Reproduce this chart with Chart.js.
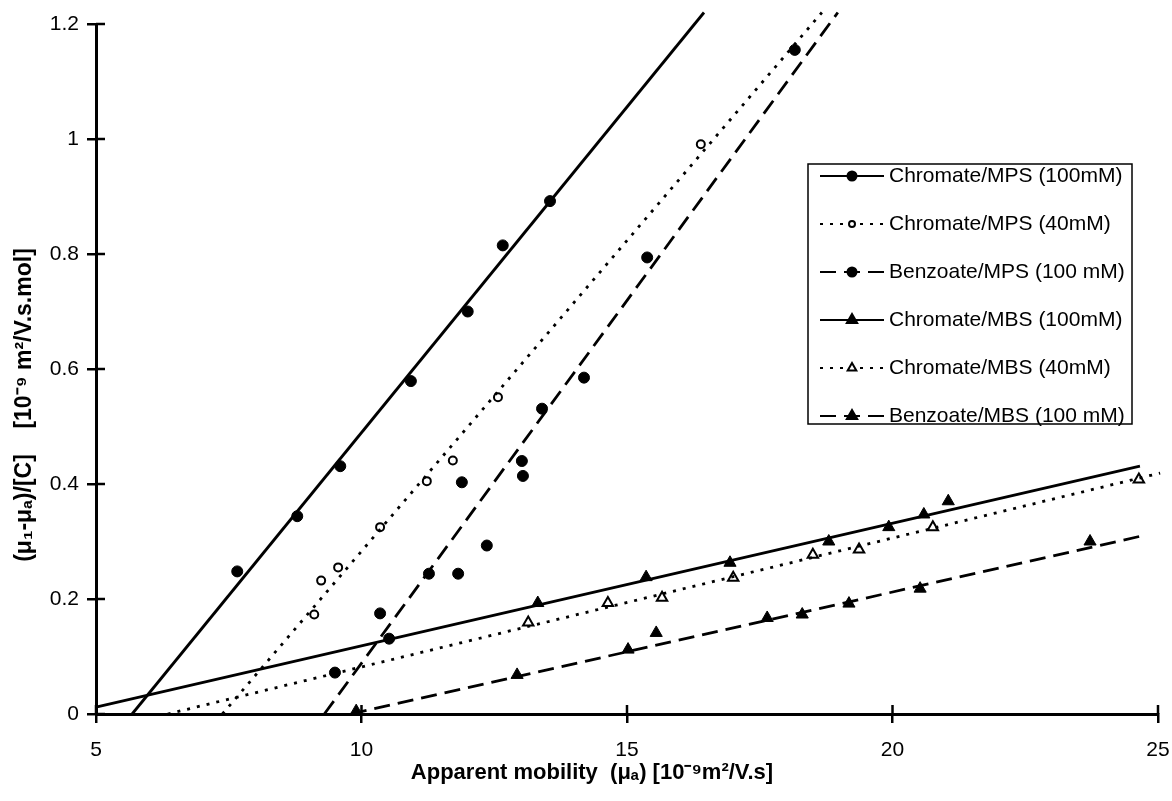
<!DOCTYPE html>
<html>
<head>
<meta charset="utf-8">
<script src="https://cdn.jsdelivr.net/npm/chart.js@4"></script>
<style>
  body { margin: 0; background: #fff; }
  #box { width: 1172px; height: 801px; }
</style>
</head>
<body>
<div id="box"><canvas id="grafico"></canvas></div>
<script>
// axes
const xTicks = [5, 10, 15, 20, 25];
const yTicks = [0, 0.2, 0.4, 0.6, 0.8, 1, 1.2];
const yTickLabels = ['0', '0.2', '0.4', '0.6', '0.8', '1', '1.2'];
const xTitle = 'Apparent mobility  (μₐ) [10⁻⁹m²/V.s]';
const yTitle = '(μ₁-μₐ)/[C]    [10⁻⁹ m²/V.s.mol]';

// series labels
const seriesNames = [
  'Chromate/MPS (100mM)',
  'Chromate/MPS (40mM)',
  'Benzoate/MPS (100 mM)',
  'Chromate/MBS (100mM)',
  'Chromate/MBS (40mM)',
  'Benzoate/MBS (100 mM)'
];

// measured points
const chrMps100X = [7.66, 8.79, 9.6, 10.93, 12.0, 12.66, 13.55];
const chrMps100Y = [0.248, 0.344, 0.431, 0.579, 0.70, 0.815, 0.892];
const chrMps40X = [9.11, 9.24, 9.56, 10.35, 11.23, 11.72, 12.57, 16.39];
const chrMps40Y = [0.173, 0.232, 0.255, 0.325, 0.405, 0.441, 0.551, 0.991];
const benMps100X = [9.5, 10.35, 10.52, 11.27, 11.82, 11.89, 12.36, 13.02, 13.04, 13.4, 14.19, 15.38, 18.16];
const benMps100Y = [0.072, 0.175, 0.131, 0.244, 0.244, 0.403, 0.293, 0.44, 0.414, 0.531, 0.585, 0.794, 1.155];
const chrMbs100X = [13.32, 15.36, 16.94, 18.8, 19.93, 20.59, 21.05];
const chrMbs100Y = [0.193, 0.238, 0.263, 0.300, 0.325, 0.347, 0.370];
const chrMbs40X = [13.14, 14.64, 15.66, 17.0, 18.5, 19.37, 20.76, 24.64];
const chrMbs40Y = [0.159, 0.193, 0.202, 0.237, 0.277, 0.286, 0.325, 0.408];
const benMbs100X = [9.9, 12.93, 15.02, 15.55, 17.64, 18.3, 19.18, 20.52, 23.72];
const benMbs100Y = [0.005, 0.068, 0.112, 0.141, 0.167, 0.173, 0.192, 0.218, 0.300];

// fitted lines (ends as drawn)
const chrMps100FitX = [5.68, 16.45];
const chrMps100FitY = [0, 1.22];
const chrMps40FitX = [7.38, 18.67];
const chrMps40FitY = [0, 1.22];
const benMps100FitX = [9.3, 18.97];
const benMps100FitY = [0, 1.22];
const chrMbs100FitX = [5, 24.66];
const chrMbs100FitY = [0.012, 0.431];
const chrMbs40FitX = [6.35, 25.04];
const chrMbs40FitY = [0, 0.419];
const benMbs100FitX = [9.8, 24.66];
const benMbs100FitY = [0, 0.309];

const SOLID = [];
const DOTTED = [3, 7];
const DASHED = [16, 8];
const FONTE = '"Liberation Sans", Arial, sans-serif';

function pares(xs, ys) {
  return xs.map((x, i) => ({ x: x, y: ys[i] }));
}

const estilos = [
  { dash: SOLID,  shape: 'circle',   radius: 5.5, fill: '#000' },
  { dash: DOTTED, shape: 'circle',   radius: 4,   fill: '#fff' },
  { dash: DASHED, shape: 'circle',   radius: 5.5, fill: '#000' },
  { dash: SOLID,  shape: 'triangle', radius: 7,   fill: '#000' },
  { dash: DOTTED, shape: 'triangle', radius: 6,   fill: '#fff' },
  { dash: DASHED, shape: 'triangle', radius: 7,   fill: '#000' }
];

const pontos = [
  pares(chrMps100X, chrMps100Y),
  pares(chrMps40X, chrMps40Y),
  pares(benMps100X, benMps100Y),
  pares(chrMbs100X, chrMbs100Y),
  pares(chrMbs40X, chrMbs40Y),
  pares(benMbs100X, benMbs100Y)
];
const retas = [
  pares(chrMps100FitX, chrMps100FitY),
  pares(chrMps40FitX, chrMps40FitY),
  pares(benMps100FitX, benMps100FitY),
  pares(chrMbs100FitX, chrMbs100FitY),
  pares(chrMbs40FitX, chrMbs40FitY),
  pares(benMbs100FitX, benMbs100FitY)
];

const datasets = [];
retas.forEach((reta, i) => {
  datasets.push({
    label: seriesNames[i] + ' fit',
    data: reta,
    showLine: true,
    borderColor: '#000',
    borderWidth: 2.8,
    borderDash: estilos[i].dash,
    pointRadius: 0,
    clip: false
  });
});
pontos.forEach((pts, i) => {
  datasets.push({
    label: seriesNames[i],
    data: pts,
    showLine: false,
    pointStyle: estilos[i].shape,
    pointRadius: estilos[i].radius,
    pointBackgroundColor: estilos[i].fill,
    pointBorderColor: '#000',
    pointBorderWidth: estilos[i].fill === '#fff' ? 2 : 1
  });
});

// tick marks crossing into the plot area
const ticksInternos = {
  id: 'ticksInternos',
  afterDraw(chart) {
    const ctx = chart.ctx;
    const xs = chart.scales.x, ys = chart.scales.y;
    ctx.save();
    ctx.strokeStyle = '#000';
    ctx.lineWidth = 2.5;
    xTicks.forEach(v => {
      const px = xs.getPixelForValue(v);
      ctx.beginPath();
      ctx.moveTo(px, ys.bottom);
      ctx.lineTo(px, ys.bottom - 9);
      ctx.stroke();
    });
    yTicks.forEach(v => {
      const py = ys.getPixelForValue(v);
      ctx.beginPath();
      ctx.moveTo(xs.left, py);
      ctx.lineTo(xs.left + 9, py);
      ctx.stroke();
    });
    ctx.restore();
  }
};

// axis titles
const titulos = {
  id: 'titulos',
  afterDraw(chart) {
    const ctx = chart.ctx;
    ctx.save();
    ctx.fillStyle = '#000';
    ctx.font = 'bold 22px ' + FONTE;
    ctx.textAlign = 'center';
    ctx.textBaseline = 'middle';
    ctx.fillText(xTitle, 592, 773);
    ctx.font = 'bold 23px ' + FONTE;
    ctx.translate(25, 405);
    ctx.rotate(-Math.PI / 2);
    ctx.fillText(yTitle, 0, 0);
    ctx.restore();
  }
};

// legend box with line + marker samples
const legenda = {
  id: 'legenda',
  afterDraw(chart) {
    const ctx = chart.ctx;
    const left = 808, top = 164, w = 324, h = 260;
    ctx.save();
    ctx.fillStyle = '#fff';
    ctx.fillRect(left, top, w, h);
    ctx.strokeStyle = '#000';
    ctx.lineWidth = 1.5;
    ctx.strokeRect(left, top, w, h);
    ctx.font = '21px ' + FONTE;
    ctx.textBaseline = 'middle';
    ctx.textAlign = 'left';
    seriesNames.forEach((nome, i) => {
      const y = 176 + i * 48;
      const e = estilos[i];
      ctx.setLineDash(e.dash);
      ctx.lineWidth = 2;
      ctx.strokeStyle = '#000';
      ctx.beginPath();
      ctx.moveTo(820, y);
      ctx.lineTo(884, y);
      ctx.stroke();
      ctx.setLineDash([]);
      ctx.fillStyle = e.fill;
      ctx.strokeStyle = '#000';
      Chart.helpers.drawPoint(ctx, {
        pointStyle: e.shape,
        radius: e.radius - 1,
        rotation: 0,
        borderWidth: e.fill === '#fff' ? 2 : 1
      }, 852, y);
      ctx.fillStyle = '#000';
      ctx.fillText(nome, 889, y);
    });
    ctx.restore();
  }
};

function criarGrafico() {
  const ctx = document.getElementById('grafico').getContext('2d');
  new Chart(ctx, {
    type: 'scatter',
    data: { datasets: datasets },
    plugins: [ticksInternos, titulos, legenda],
    options: {
      responsive: true,
      maintainAspectRatio: false,
      animation: false,
      layout: { padding: { top: 24, right: 14, left: 0, bottom: 0 } },
      plugins: {
        legend: { display: false },
        tooltip: { enabled: false }
      },
      scales: {
        x: {
          type: 'linear',
          min: 5,
          max: 25,
          afterBuildTicks: (scale) => { scale.ticks = xTicks.map(v => ({ value: v })); },
          afterFit: (scale) => {
            scale.height = 87;
            scale.paddingLeft = 0;
            scale.paddingRight = 0;
          },
          grid: { drawOnChartArea: false, color: '#000', lineWidth: 2.5, tickLength: 9 },
          border: { display: true, color: '#000', width: 3 },
          ticks: {
            color: '#000',
            padding: 15,
            maxRotation: 0,
            font: { family: FONTE, size: 21 }
          }
        },
        y: {
          type: 'linear',
          min: 0,
          max: 1.2,
          afterBuildTicks: (scale) => { scale.ticks = yTicks.map(v => ({ value: v })); },
          afterFit: (scale) => { scale.width = 96; },
          grid: { drawOnChartArea: false, color: '#000', lineWidth: 2.5, tickLength: 9 },
          border: { display: true, color: '#000', width: 3 },
          ticks: {
            color: '#000',
            padding: 8,
            callback: (value, index) => yTickLabels[index],
            font: { family: FONTE, size: 21 }
          }
        }
      }
    }
  });
}

criarGrafico();
</script>
</body>
</html>
